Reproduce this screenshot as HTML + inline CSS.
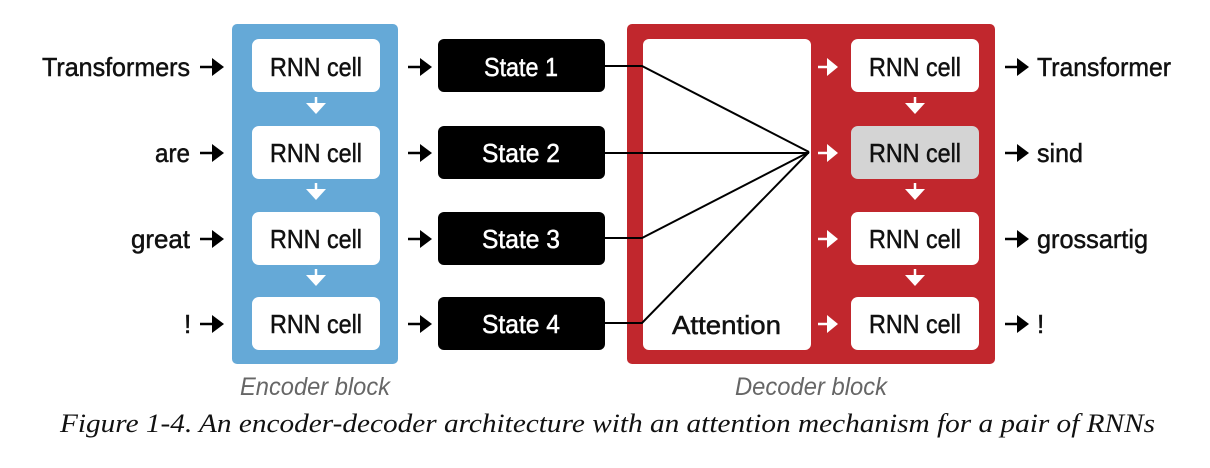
<!DOCTYPE html>
<html><head><meta charset="utf-8"><style>
html,body{margin:0;padding:0;background:#fff;}
svg{display:block}
.t{font-family:"Liberation Sans",sans-serif;font-size:26px;stroke-width:0.5px}
</style></head><body>
<svg width="1210" height="468" viewBox="0 0 1210 468" xmlns="http://www.w3.org/2000/svg">
<defs>
<g id="ba"><path d="M0,0 H14" stroke="#000" stroke-width="2.5"/><path d="M12,-9 L24,0 L12,9 Z" fill="#000"/></g>
<g id="wa"><path d="M0,0 H10" stroke="#fff" stroke-width="2.5"/><path d="M9,-9 L20,0 L9,9 Z" fill="#fff"/></g>
<g id="wd"><path d="M0,0 V8" stroke="#fff" stroke-width="2.5"/><path d="M-10,6 L0,17 L10,6 Z" fill="#fff"/></g>
</defs>
<rect x="232" y="24" width="166" height="340" rx="5" fill="#65a9d7"/>
<g fill="#fff">
<rect x="252" y="39" width="128" height="53" rx="7"/>
<rect x="252" y="126" width="128" height="53" rx="7"/>
<rect x="252" y="212" width="128" height="53" rx="7"/>
<rect x="252" y="297" width="128" height="53" rx="7"/>
</g>
<use href="#wd" x="316" y="97"/><use href="#wd" x="316" y="183"/><use href="#wd" x="316" y="269"/>
<g class="t" fill="#111" stroke="#111">
<text x="270" y="76" textLength="92" lengthAdjust="spacingAndGlyphs">RNN cell</text>
<text x="270" y="162" textLength="92" lengthAdjust="spacingAndGlyphs">RNN cell</text>
<text x="270" y="248" textLength="92" lengthAdjust="spacingAndGlyphs">RNN cell</text>
<text x="270" y="333" textLength="92" lengthAdjust="spacingAndGlyphs">RNN cell</text>
<text x="42" y="76" textLength="148" lengthAdjust="spacingAndGlyphs">Transformers</text>
<text x="155" y="162" textLength="35" lengthAdjust="spacingAndGlyphs">are</text>
<text x="131" y="248" textLength="59" lengthAdjust="spacingAndGlyphs">great</text>
<text x="184" y="333">!</text>
</g>
<use href="#ba" x="200" y="67"/><use href="#ba" x="200" y="153"/><use href="#ba" x="200" y="239"/><use href="#ba" x="200" y="324"/>
<use href="#ba" x="408" y="67"/><use href="#ba" x="408" y="153"/><use href="#ba" x="408" y="239"/><use href="#ba" x="408" y="324"/>
<g fill="#000">
<rect x="438" y="39" width="167" height="53" rx="6"/>
<rect x="438" y="126" width="167" height="53" rx="6"/>
<rect x="438" y="212" width="167" height="53" rx="6"/>
<rect x="438" y="297" width="167" height="53" rx="6"/>
</g>
<g class="t" fill="#fff" stroke="#fff">
<text x="484" y="76" textLength="74" lengthAdjust="spacingAndGlyphs">State 1</text>
<text x="482" y="162" textLength="78" lengthAdjust="spacingAndGlyphs">State 2</text>
<text x="482" y="248" textLength="78" lengthAdjust="spacingAndGlyphs">State 3</text>
<text x="482" y="333" textLength="78" lengthAdjust="spacingAndGlyphs">State 4</text>
</g>
<rect x="627" y="24" width="368" height="340" rx="5" fill="#c1272d"/>
<rect x="643" y="39" width="168" height="311" rx="6" fill="#fff"/>
<g fill="#fff">
<rect x="851" y="39" width="128" height="53" rx="7"/>
<rect x="851" y="126" width="128" height="53" rx="7" fill="#d4d4d4"/>
<rect x="851" y="212" width="128" height="53" rx="7"/>
<rect x="851" y="297" width="128" height="53" rx="7"/>
</g>
<use href="#wd" x="915" y="97"/><use href="#wd" x="915" y="183"/><use href="#wd" x="915" y="269"/>
<use href="#wa" x="818" y="67"/><use href="#wa" x="818" y="153"/><use href="#wa" x="818" y="239"/><use href="#wa" x="818" y="324"/>
<g class="t" fill="#111" stroke="#111">
<text x="869" y="76" textLength="92" lengthAdjust="spacingAndGlyphs">RNN cell</text>
<text x="869" y="162" textLength="92" lengthAdjust="spacingAndGlyphs">RNN cell</text>
<text x="869" y="248" textLength="92" lengthAdjust="spacingAndGlyphs">RNN cell</text>
<text x="869" y="333" textLength="92" lengthAdjust="spacingAndGlyphs">RNN cell</text>
<text x="672" y="334" textLength="109" lengthAdjust="spacingAndGlyphs">Attention</text>
<text x="1037" y="76" textLength="134" lengthAdjust="spacingAndGlyphs">Transformer</text>
<text x="1037" y="162" textLength="46" lengthAdjust="spacingAndGlyphs">sind</text>
<text x="1037" y="248" textLength="111" lengthAdjust="spacingAndGlyphs">grossartig</text>
<text x="1037" y="333">!</text>
</g>
<g stroke="#000" stroke-width="2" fill="none">
<path d="M605,66 H642 L809,152"/>
<path d="M605,153 H809"/>
<path d="M605,238 H642 L809,152"/>
<path d="M605,323 H642 L809,152"/>
</g>
<use href="#ba" x="1005" y="67"/><use href="#ba" x="1005" y="153"/><use href="#ba" x="1005" y="239"/><use href="#ba" x="1005" y="324"/>
<g font-family="Liberation Sans,sans-serif" font-style="italic" font-size="25" fill="#666">
<text x="240" y="395" textLength="150" lengthAdjust="spacingAndGlyphs">Encoder block</text>
<text x="735" y="395" textLength="152" lengthAdjust="spacingAndGlyphs">Decoder block</text>
</g>
<text x="60" y="432" textLength="1095" lengthAdjust="spacingAndGlyphs" font-family="Liberation Serif,serif" font-style="italic" font-size="26" fill="#111">Figure 1-4. An encoder-decoder architecture with an attention mechanism for a pair of RNNs</text>
</svg>
</body></html>
